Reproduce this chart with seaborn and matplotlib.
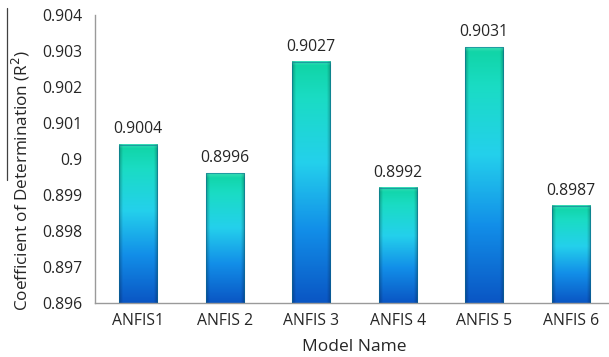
import numpy as np
import matplotlib
matplotlib.use("Agg")
import matplotlib.pyplot as plt
from matplotlib.colors import LinearSegmentedColormap
from matplotlib.lines import Line2D
import seaborn as sns
import pandas as pd

models = ["ANFIS1", "ANFIS 2", "ANFIS 3", "ANFIS 4", "ANFIS 5", "ANFIS 6"]
r2 = [0.9004, 0.8996, 0.9027, 0.8992, 0.9031, 0.8987]
y_ticks = [0.896, 0.897, 0.898, 0.899, 0.900, 0.901, 0.902, 0.903, 0.904]

sns.set_theme(style="white")
plt.rcParams["font.family"] = ["Open Sans", "DejaVu Sans"]

df = pd.DataFrame({"model": models, "r2": r2})

fig = plt.figure(figsize=(6.09, 3.57), dpi=100)
ax = fig.add_axes([0.156, 0.151, 0.852, 0.807])

sns.barplot(data=df, x="model", y="r2", ax=ax, width=0.44, color="#1fb8e0",
            edgecolor="none", linewidth=0)

y0, y1 = y_ticks[0], y_ticks[-1]
ax.set_ylim(y0, y1)
ax.set_xlim(-0.5, len(models) - 0.5)

# vertical colour ramp: teal-green top -> cyan -> blue bottom
ramp = LinearSegmentedColormap.from_list(
    "bar", [(0.0, "#0a56c4"), (0.3, "#128ee8"), (0.58, "#24d0ec"),
            (0.85, "#1adcc4"), (1.0, "#10d4a4")])
ny, nx = 300, 60
vert = ramp(np.linspace(0, 1, ny))[:, :3]          # bottom -> top
xs = np.linspace(-1, 1, nx)
shade = 1.0 - 0.25 * np.clip((np.abs(xs) - 0.8) / 0.2, 0, 1)
base_img = (vert[:, None, :] * shade[None, :, None])[::-1]   # top row first

to_axes = ax.transData + ax.transAxes.inverted()
for patch in list(ax.patches):
    x = patch.get_x()
    w = patch.get_width()
    top = patch.get_y() + patch.get_height()
    patch.set_visible(False)
    (ax0, ay0), (ax1, ay1) = to_axes.transform([(x, y0), (x + w, top)])
    bar_img = base_img.copy()
    # soft bevel on the top cap, fading downwards
    cap = max(2, int(ny * 0.018 / max(ay1 - ay0, 1e-6)))
    fade = np.linspace(0.35, 0.0, cap)[:, None, None]
    bar_img[:cap] = np.clip(bar_img[:cap] * (1 - fade)
                            + fade * np.array([0.55, 0.96, 0.86]), 0, 1)
    ax.imshow(bar_img, extent=[ax0, ax1, ay0, ay1], transform=ax.transAxes,
              aspect="auto", interpolation="bilinear", zorder=2)
    ax.add_patch(plt.Rectangle((x, y0), w, top - y0, fill=False,
                               edgecolor="#0b6a92", linewidth=0.8, alpha=0.55,
                               zorder=3))
    ax.text(x + w / 2, top + 0.0002, f"{top:.4f}", ha="center", va="bottom",
            fontsize=11.3, color="#262626", zorder=4)

ax.set_ylim(y0, y1)
ax.set_xlim(-0.5, len(models) - 0.5)
ax.set_yticks(y_ticks)
ax.set_yticklabels([f"{v:.3f}".rstrip("0") for v in y_ticks])
ax.tick_params(axis="both", length=0, labelsize=11.3, labelcolor="#262626")
ax.tick_params(axis="x", pad=7)
ax.tick_params(axis="y", pad=9)
for side in ("top", "right"):
    ax.spines[side].set_visible(False)
for side in ("left", "bottom"):
    ax.spines[side].set_color("#9a9a9a")
    ax.spines[side].set_linewidth(1.0)

ax.set_xlabel("Model Name", fontsize=12.5, color="#262626", labelpad=7)
ax.set_ylabel("")
fig.text(0.034, 0.494, "Coefficient of Determination (R$^2$)", rotation=90,
         ha="center", va="center", fontsize=12.3, color="#262626")
fig.add_artist(Line2D([0.011, 0.011], [0.497, 0.978], transform=fig.transFigure,
                      color="#404040", linewidth=0.9))

fig.savefig("out.png", dpi=100)
